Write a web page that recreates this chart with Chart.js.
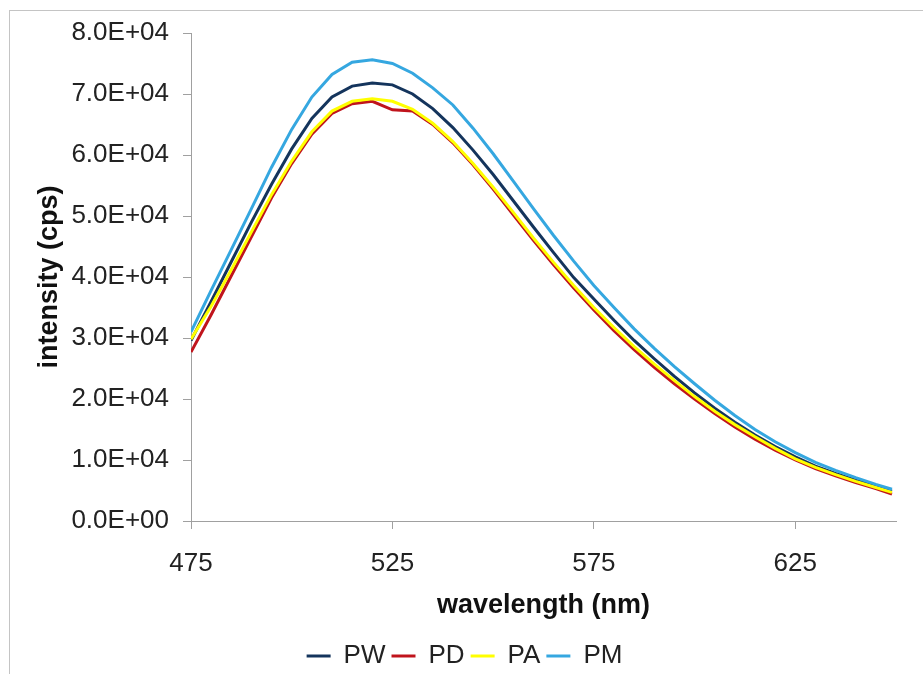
<!DOCTYPE html>
<html>
<head>
<meta charset="utf-8">
<script src="https://cdn.jsdelivr.net/npm/chart.js@4"></script>
<style>
  html, body { margin: 0; padding: 0; background: #fff; }
  canvas { display: block; }
</style>
</head>
<body>
<canvas id="chart" width="923" height="674"></canvas>
<script>
// wavelength (nm)
const wavelengths = [475, 480, 485, 490, 495, 500, 505, 510, 515, 520, 525, 530, 535, 540, 545, 550, 555, 560,
  565, 570, 575, 580, 585, 590, 595, 600, 605, 610, 615, 620, 625, 630, 635, 640, 645, 649];

// intensity (cps)
const pw = [29600, 36000, 42500, 49000, 55200, 61000, 66000, 69500, 71300, 71800, 71500, 70000, 67600, 64500,
  60800, 56800, 52500, 48200, 44000, 39900, 36400, 32900, 29600, 26600, 23700, 21000, 18500, 16200, 14100,
  12200, 10500, 9000, 7800, 6700, 5700, 4900];
const pd = [27700, 33800, 40200, 46600, 53000, 58600, 63400, 66800, 68400, 68800, 67400, 67200, 65000, 62000,
  58400, 54400, 50200, 46000, 42000, 38200, 34600, 31200, 28100, 25200, 22500, 20000, 17600, 15400, 13400,
  11600, 10000, 8600, 7400, 6300, 5300, 4400];
const pa = [29800, 35200, 41200, 47400, 53500, 59000, 63800, 67200, 68800, 69200, 68800, 67500, 65200, 62200,
  58600, 54700, 50600, 46400, 42400, 38600, 35000, 31700, 28600, 25700, 23000, 20400, 18000, 15800, 13800,
  11900, 10200, 8800, 7600, 6500, 5500, 4700];
const pm = [31000, 37800, 44500, 51200, 58000, 64200, 69500, 73200, 75200, 75600, 75000, 73400, 71000, 68200,
  64400, 60200, 55700, 51200, 46800, 42600, 38600, 35000, 31500, 28300, 25300, 22500, 19800, 17300, 15000,
  13000, 11200, 9600, 8300, 7100, 6000, 5200];

const xTicks = [475, 525, 575, 625];
const seriesNames = ['PW', 'PD', 'PA', 'PM'];
const seriesColors = ['#14345c', '#c0141c', '#ffff00', '#35a7e0'];

const font = '"Liberation Sans", Arial, sans-serif';

function sciLabel(v) {
  const parts = v.toExponential(1).split('e');
  let exp = parseInt(parts[1], 10);
  const sign = exp < 0 ? '-' : '+';
  exp = Math.abs(exp);
  return parts[0] + 'E' + sign + (exp < 10 ? '0' + exp : exp);
}

const frame = {
  id: 'frame',
  beforeDraw(chart) {
    const c = chart.ctx;
    c.save();
    c.fillStyle = '#fff';
    c.fillRect(0, 0, chart.width, chart.height);
    c.strokeStyle = '#c4c4c4';
    c.lineWidth = 1;
    c.strokeRect(9.5, 10.5, 1200, 1200);
    c.restore();
  }
};

const allData = [pw, pd, pa, pm];
const datasets = allData.map((vals, i) => ({
  label: seriesNames[i],
  data: vals.map((y, j) => ({ x: wavelengths[j], y })),
  borderColor: seriesColors[i],
  backgroundColor: seriesColors[i],
  borderWidth: 3,
  pointRadius: 0,
  tension: 0,
  order: 4 - i
}));

const ctx = document.getElementById('chart').getContext('2d');
new Chart(ctx, {
  type: 'line',
  data: { datasets },
  plugins: [frame],
  options: {
    responsive: false,
    animation: false,
    layout: { padding: { top: 33, right: 27, bottom: -5, left: 33 } },
    scales: {
      x: {
        type: 'linear',
        min: 475,
        max: 650,
        afterBuildTicks: function(scale) {
          scale.ticks = xTicks.map(v => ({ value: v }));
        },
        afterFit: function(scale) {
          scale.height = 116;
        },
        grid: {
          drawOnChartArea: false,
          color: '#a0a0a0',
          tickLength: 8
        },
        border: { color: '#a0a0a0', width: 1 },
        ticks: {
          color: '#222',
          font: { family: font, size: 26 },
          padding: 19,
          maxRotation: 0
        },
        title: {
          display: true,
          text: 'wavelength (nm)',
          color: '#111',
          font: { family: font, size: 27, weight: 'bold' },
          padding: { top: 2, bottom: 15 }
        }
      },
      y: {
        min: 0,
        max: 80000,
        afterFit: function(scale) {
          scale.width = 158;
        },
        grid: {
          drawOnChartArea: false,
          color: '#a0a0a0',
          tickLength: 8
        },
        border: { color: '#a0a0a0', width: 1 },
        ticks: {
          stepSize: 10000,
          color: '#222',
          font: { family: font, size: 26 },
          padding: 14,
          callback: function(value) {
            return sciLabel(value);
          }
        },
        title: {
          display: true,
          text: 'intensity (cps)',
          color: '#111',
          font: { family: font, size: 27, weight: 'bold' },
          padding: { top: 0, bottom: 0 }
        }
      }
    },
    plugins: {
      tooltip: { enabled: false },
      legend: {
        position: 'bottom',
        labels: {
          color: '#222',
          font: { family: font, size: 26 },
          boxWidth: 24,
          boxHeight: 3,
          padding: 6,
          sort: (a, b) => a.datasetIndex - b.datasetIndex,
          generateLabels: function(chart) {
            const items = Chart.defaults.plugins.legend.labels.generateLabels(chart);
            items.forEach(item => { item.lineWidth = 0; });
            return items;
          }
        }
      }
    }
  }
});
</script>
</body>
</html>
